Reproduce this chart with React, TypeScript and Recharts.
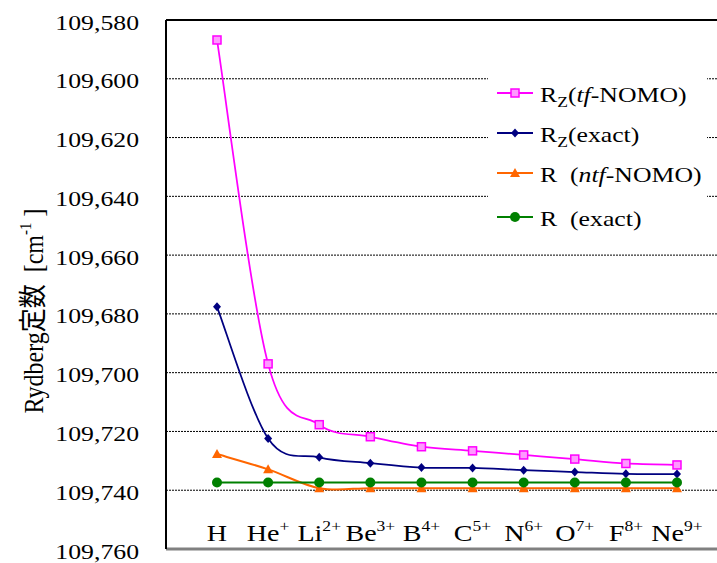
import React from "react";
import { LineChart, Line, XAxis, YAxis, CartesianGrid, ReferenceLine, Label } from "recharts";

const categories = ["H", "He+", "Li2+", "Be3+", "B4+", "C5+", "N6+", "O7+", "F8+", "Ne9+"];
const rzTfNomo = [109586.8, 109697.0, 109717.7, 109721.8, 109725.2, 109726.6, 109728.0, 109729.4, 109730.9, 109731.4];
const rzExact = [109677.6, 109722.4, 109728.8, 109730.8, 109732.3, 109732.4, 109733.2, 109733.8, 109734.4, 109734.5];
const rNtfNomo = [109727.7, 109732.9, 109739.3, 109739.3, 109739.3, 109739.3, 109739.3, 109739.3, 109739.3, 109739.3];
const rExact = [109737.4, 109737.4, 109737.4, 109737.4, 109737.4, 109737.4, 109737.4, 109737.4, 109737.4, 109737.4];
const yTicks = [109580, 109600, 109620, 109640, 109660, 109680, 109700, 109720, 109740, 109760];

const data = categories.map((c, i) => ({
  ion: c,
  rzTf: rzTfNomo[i],
  rzEx: rzExact[i],
  rNtf: rNtfNomo[i],
  rEx: rExact[i],
}));

const FONT = "Liberation Serif";
const CJK = "Liberation Serif, Noto Sans CJK JP";
const SX = 1.17; // text in the original is a bit wider than it is tall
const PINK = "#ff00ff";
const NAVY = "#000080";
const ORANGE = "#ff6600";
const GREEN = "#008000";

// smoothing close to the spreadsheet's "smoothed line" (catmull-rom)
const smooth = (ctx: any) => {
  let pts: number[][] = [];
  return {
    areaStart() {},
    areaEnd() {},
    lineStart() {
      pts = [];
    },
    point(x: number, y: number) {
      pts.push([+x, +y]);
    },
    lineEnd() {
      const n = pts.length;
      if (!n) return;
      ctx.moveTo(pts[0][0], pts[0][1]);
      for (let i = 0; i < n - 1; i++) {
        const p0 = pts[Math.max(i - 1, 0)];
        const p1 = pts[i];
        const p2 = pts[i + 1];
        const p3 = pts[Math.min(i + 2, n - 1)];
        ctx.bezierCurveTo(
          p1[0] + (p2[0] - p0[0]) / 6,
          p1[1] + (p2[1] - p0[1]) / 6,
          p2[0] - (p3[0] - p1[0]) / 6,
          p2[1] - (p3[1] - p1[1]) / 6,
          p2[0],
          p2[1]
        );
      }
    },
  };
};

const Square = ({ cx, cy }: any) => (
  <rect x={cx - 4} y={cy - 4} width={8} height={8} fill="#ff99ff" stroke={PINK} strokeWidth={1.5} />
);
const Diamond = ({ cx, cy }: any) => (
  <path d={`M${cx},${cy - 4.5}L${cx + 4},${cy}L${cx},${cy + 4.5}L${cx - 4},${cy}Z`} fill={NAVY} />
);
const Triangle = ({ cx, cy }: any) => (
  <path d={`M${cx},${cy - 5}L${cx + 5},${cy + 4}L${cx - 5},${cy + 4}Z`} fill={ORANGE} />
);
const Circle = ({ cx, cy }: any) => <circle cx={cx} cy={cy} r={5} fill={GREEN} />;

const XTick = ({ x, y, payload }: any) => {
  const m = String(payload.value).match(/^([A-Za-z]+)(.*)$/);
  const base = m ? m[1] : payload.value;
  const sup = m ? m[2] : "";
  return (
    <text
      transform={`translate(${x},${y - 16}) scale(${SX},1)`}
      textAnchor="middle"
      fontFamily={FONT}
      fontSize={24}
      fill="#000"
    >
      {base}
      {sup && (
        <tspan dy={-10} fontSize={15}>
          {sup}
        </tspan>
      )}
    </text>
  );
};

const YTick = ({ x, y, payload }: any) => (
  <text transform={`translate(${x},${y + 9.5}) scale(${SX},1)`} textAnchor="end" fontFamily={FONT} fontSize={22} fill="#000">
    {Number(payload.value).toLocaleString("en-US")}
  </text>
);

const YTitle = () => (
  <text
    transform={`translate(43,311) scale(${SX},1) rotate(-90)`}
    textAnchor="middle"
    fontFamily={CJK}
    fontSize={24}
    fill="#000"
    style={{ whiteSpace: "pre" }}
  >
    {"Rydberg定数  [cm"}
    <tspan dy={-10} fontSize={15}>-1</tspan>
    <tspan dy={10}>{" ]"}</tspan>
  </text>
);

const legendRows = [
  { color: PINK, Dot: Square, y: 21, label: (<><tspan>R</tspan><tspan dy={5} fontSize={15}>Z</tspan><tspan dy={-5}>(</tspan><tspan fontStyle="italic">tf</tspan><tspan>-NOMO)</tspan></>) },
  { color: NAVY, Dot: Diamond, y: 61, label: (<><tspan>R</tspan><tspan dy={5} fontSize={15}>Z</tspan><tspan dy={-5}>(exact)</tspan></>) },
  { color: ORANGE, Dot: Triangle, y: 101, label: (<><tspan>{"R  ("}</tspan><tspan fontStyle="italic">ntf</tspan><tspan>-NOMO)</tspan></>) },
  { color: GREEN, Dot: Circle, y: 145, label: (<><tspan>{"R  (exact)"}</tspan></>) },
];

const ChartLegend = () => (
  <div style={{ position: "absolute", left: 488, top: 72, width: 219, height: 172, background: "#fff" }}>
    <svg width={219} height={172}>
      {legendRows.map((r, i) => (
        <g key={i}>
          <line x1={9} x2={45} y1={r.y} y2={r.y} stroke={r.color} strokeWidth={2} />
          <r.Dot cx={27} cy={r.y} />
          <text
            transform={`translate(52,${r.y + 8.5}) scale(${SX},1)`}
            fontFamily={FONT}
            fontSize={22}
            fill="#000"
            style={{ whiteSpace: "pre" }}
          >
            {r.label}
          </text>
        </g>
      ))}
    </svg>
  </div>
);

export default function App() {
  return (
    <div style={{ position: "absolute", left: 0, top: 0, width: 717, height: 563, background: "#fff" }}>
      <LineChart width={717} height={563} data={data} margin={{ top: 20, right: 0, bottom: 13, left: 0 }}>
        <CartesianGrid vertical={false} stroke="#000" strokeDasharray="2 1" />
        <XAxis
          dataKey="ion"
          height={1}
          interval={0}
          padding={{ left: 51, right: 40 }}
          tick={<XTick />}
          tickLine={false}
          axisLine={{ stroke: "#808080", strokeWidth: 3 }}
        />
        <YAxis
          width={166}
          reversed
          domain={[109580, 109760]}
          ticks={yTicks}
          interval={0}
          tick={<YTick />}
          tickLine={false}
          tickMargin={21}
          axisLine={{ stroke: "#000", strokeWidth: 2 }}
        >
          <Label content={<YTitle />} />
        </YAxis>
        <ReferenceLine y={109580} stroke="#000" strokeWidth={2} />
        <Line type={smooth as any} dataKey="rzTf" stroke={PINK} strokeWidth={1.75} dot={(p: any) => <Square key={p.index} {...p} />} isAnimationActive={false} />
        <Line type={smooth as any} dataKey="rzEx" stroke={NAVY} strokeWidth={1.75} dot={(p: any) => <Diamond key={p.index} {...p} />} isAnimationActive={false} />
        <Line type={smooth as any} dataKey="rNtf" stroke={ORANGE} strokeWidth={2} dot={(p: any) => <Triangle key={p.index} {...p} />} isAnimationActive={false} />
        <Line type={smooth as any} dataKey="rEx" stroke={GREEN} strokeWidth={2} dot={(p: any) => <Circle key={p.index} {...p} />} isAnimationActive={false} />
      </LineChart>
      <ChartLegend />
    </div>
  );
}
